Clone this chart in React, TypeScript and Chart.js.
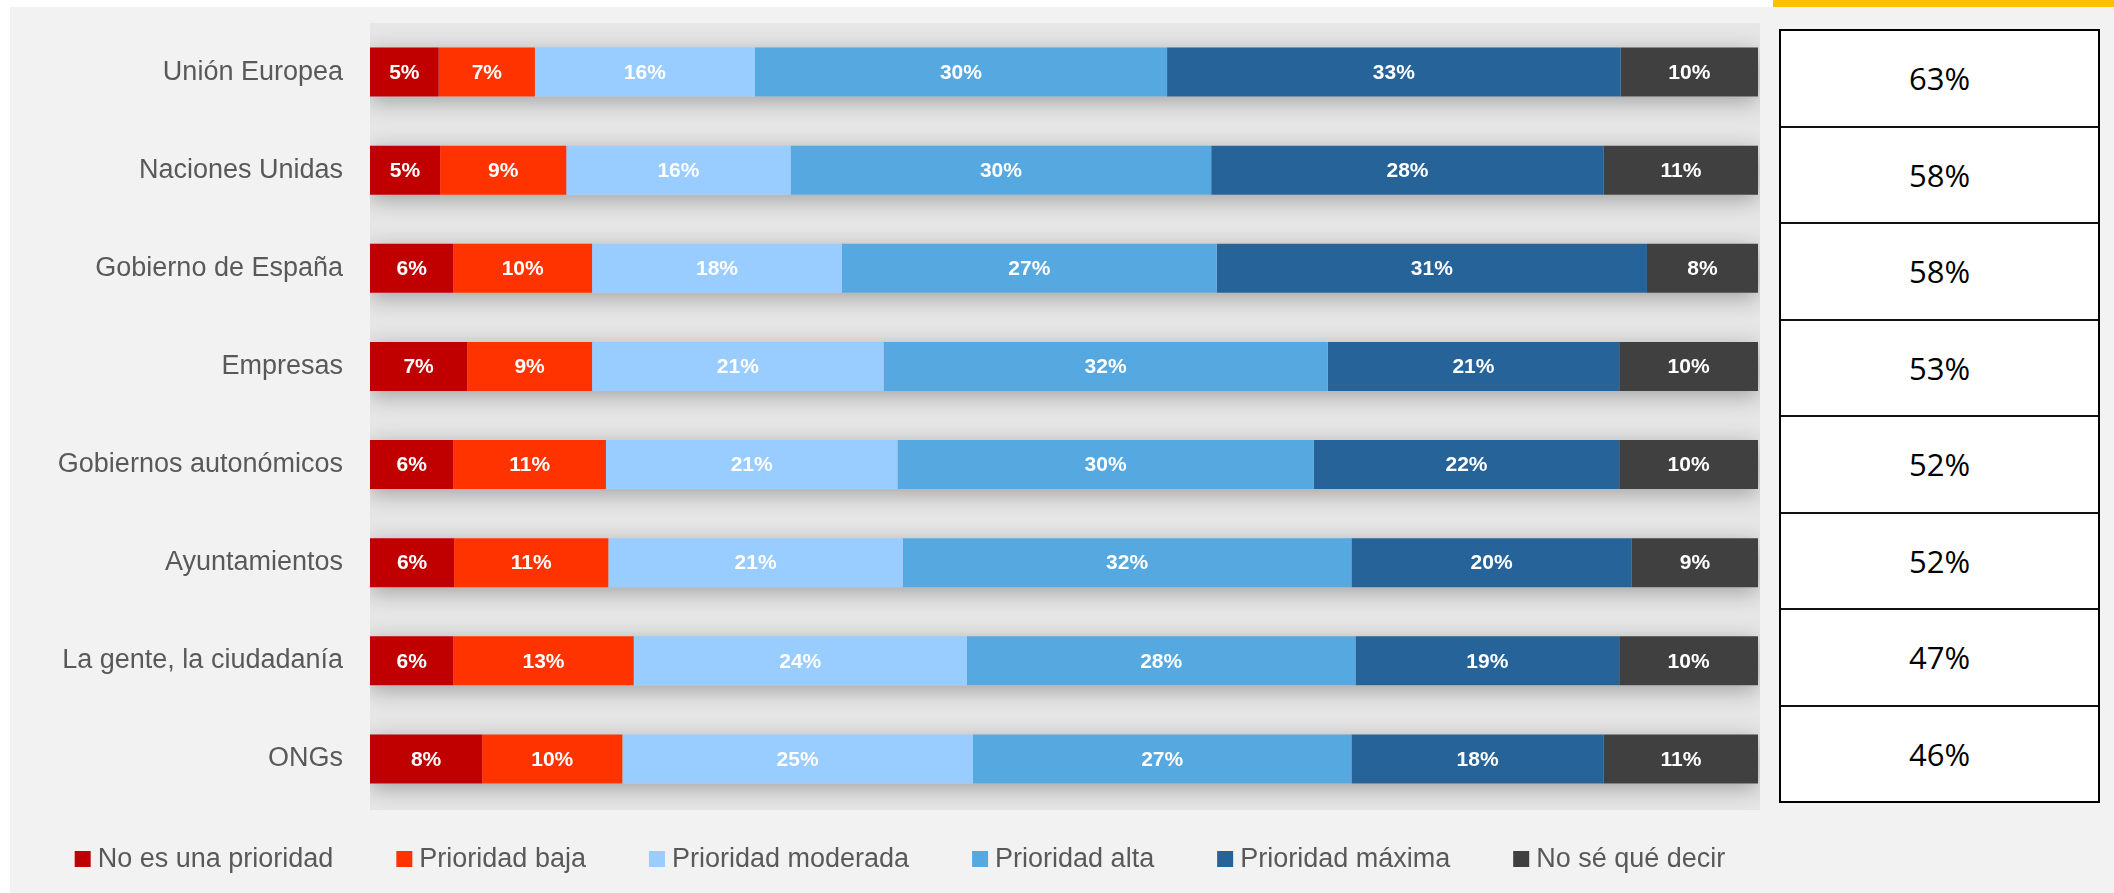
import React, { useEffect, useRef } from "react";
import { Chart, registerables } from "chart.js";

Chart.register(...registerables);

const categories = [
  "Unión Europea",
  "Naciones Unidas",
  "Gobierno de España",
  "Empresas",
  "Gobiernos autonómicos",
  "Ayuntamientos",
  "La gente, la ciudadanía",
  "ONGs",
];
const seriesNames = [
  "No es una prioridad",
  "Prioridad baja",
  "Prioridad moderada",
  "Prioridad alta",
  "Prioridad máxima",
  "No sé qué decir",
];
const noPrioridad = [5, 5, 6, 7, 6, 6, 6, 8];
const prioridadBaja = [7, 9, 10, 9, 11, 11, 13, 10];
const prioridadModerada = [16, 16, 18, 21, 21, 21, 24, 25];
const prioridadAlta = [30, 30, 27, 32, 30, 32, 28, 27];
const prioridadMaxima = [33, 28, 31, 21, 22, 20, 19, 18];
const noSe = [10, 11, 8, 10, 10, 9, 10, 11];
const altaMasMaxima = [63, 58, 58, 53, 52, 52, 47, 46];
const seriesColors = ["#C00000", "#FF3300", "#99CCFF", "#55A8E0", "#256399", "#404040"];

const seriesValues = [noPrioridad, prioridadBaja, prioridadModerada, prioridadAlta, prioridadMaxima, noSe];
const rowSums = categories.map((_, i) => seriesValues.reduce((s, arr) => s + arr[i], 0));

const FONT = '"Liberation Sans", Arial, sans-serif';

const plotBgPlugin = {
  id: "plotBg",
  beforeDraw(chart: any) {
    const { ctx, chartArea } = chart;
    ctx.save();
    ctx.fillStyle = "#E6E6E6";
    ctx.fillRect(chartArea.left, chartArea.top, chartArea.right - chartArea.left + 2, chartArea.bottom - chartArea.top + 2);
    ctx.restore();
  },
  beforeDatasetsDraw(chart: any) {
    const { ctx } = chart;
    const first = chart.getDatasetMeta(0).data;
    const last = chart.getDatasetMeta(chart.data.datasets.length - 1).data;
    ctx.save();
    ctx.beginPath();
    ctx.rect(chart.chartArea.left, chart.chartArea.top, chart.chartArea.right - chart.chartArea.left + 2, chart.chartArea.bottom - chart.chartArea.top + 2);
    ctx.clip();
    first.forEach((bar: any, i: number) => {
      const endBar = last[i];
      const left = Math.min(bar.base, bar.x);
      const right = endBar.x;
      const h = bar.height;
      ctx.shadowColor = "rgba(0,0,0,0.30)";
      ctx.shadowBlur = 22;
      ctx.shadowOffsetY = 5;
      ctx.fillStyle = "#D0D0D0";
      ctx.fillRect(left, bar.y - h / 2, right - left, h);
    });
    ctx.restore();
  },
  afterDatasetsDraw(chart: any) {
    const { ctx } = chart;
    ctx.save();
    ctx.fillStyle = "#FFFFFF";
    ctx.font = `bold 21px ${FONT}`;
    ctx.textAlign = "center";
    ctx.textBaseline = "middle";
    chart.data.datasets.forEach((ds: any, d: number) => {
      const meta = chart.getDatasetMeta(d);
      meta.data.forEach((bar: any, i: number) => {
        const cx = (bar.x + bar.base) / 2;
        ctx.fillText(`${ds.rawValues[i]}%`, cx, bar.y + 1);
      });
    });
    ctx.restore();
  },
  afterDraw(chart: any) {
    const { ctx } = chart;
    ctx.save();
    ctx.font = `27px ${FONT}`;
    const box = 16;
    const gap = 7;
    const spacing = 63;
    const widths = seriesNames.map((n) => box + gap + ctx.measureText(n).width);
    const total = widths.reduce((a, b) => a + b, 0) + spacing * (widths.length - 1);
    let x = chart.width / 2 - total / 2;
    const baseline = 858.5;
    ctx.textBaseline = "alphabetic";
    ctx.textAlign = "left";
    seriesNames.forEach((n, i) => {
      ctx.fillStyle = seriesColors[i];
      ctx.fillRect(x, 843, box, box);
      ctx.fillStyle = "#595959";
      ctx.fillText(n, x + box + gap, baseline);
      x += widths[i] + spacing;
    });
    ctx.restore();
  },
};

function BarChart() {
  const ref = useRef<HTMLCanvasElement | null>(null);
  useEffect(() => {
    if (!ref.current) return;
    const chart = new Chart(ref.current, {
      type: "bar",
      data: {
        labels: categories,
        datasets: seriesNames.map((name, d) => ({
          label: name,
          data: seriesValues[d].map((v, i) => (v / rowSums[i]) * 100),
          rawValues: seriesValues[d],
          backgroundColor: seriesColors[d],
          borderWidth: 0,
          categoryPercentage: 1,
          barPercentage: 0.5,
        })) as any,
      },
      options: {
        indexAxis: "y",
        responsive: false,
        maintainAspectRatio: false,
        animation: false,
        devicePixelRatio: 1,
        layout: { padding: { top: 15, right: 32, bottom: 85, left: 0 } },
        plugins: { legend: { display: false }, tooltip: { enabled: false } },
        scales: {
          x: { stacked: true, min: 0, max: 100, display: false },
          y: {
            stacked: true,
            grid: { display: false, drawTicks: false },
            border: { display: false },
            ticks: { padding: 27, color: "#595959", font: { family: FONT, size: 27 } },
            afterFit: (s: any) => {
              s.width = 360;
              s.paddingTop = 0;
              s.paddingBottom = 0;
            },
          },
        },
      } as any,
      plugins: [plotBgPlugin],
    });
    return () => chart.destroy();
  }, []);
  return (
    <canvas
      ref={ref}
      width={1780}
      height={885}
      style={{ position: "absolute", left: 10, top: 8, width: 1780, height: 885 }}
    />
  );
}

export default function App() {
  return (
    <div style={{ position: "fixed", left: 0, top: 0, width: 2114, height: 893, background: "#FFFFFF", overflow: "hidden" }}>
      <div style={{ position: "absolute", left: 10, top: 7, right: 0, bottom: 0, background: "#F2F2F2" }} />
      <div style={{ position: "absolute", left: 1773, top: 0, width: 341, height: 7, background: "#FFC000" }} />
      <BarChart />
      <div
        style={{
          position: "absolute",
          left: 1779,
          top: 29,
          width: 321,
          height: 774,
          boxSizing: "border-box",
          border: "2px solid #000",
          background: "#FFFFFF",
          display: "flex",
          flexDirection: "column",
        }}
      >
        {altaMasMaxima.map((v, i) => (
          <div
            key={i}
            style={{
              flex: 1,
              borderTop: i ? "2px solid #111" : "none",
              display: "flex",
              alignItems: "center",
              justifyContent: "center",
              fontFamily: '"Open Sans", sans-serif',
              fontSize: 31,
              color: "#000",
            }}
          >
            {v}%
          </div>
        ))}
      </div>
    </div>
  );
}
